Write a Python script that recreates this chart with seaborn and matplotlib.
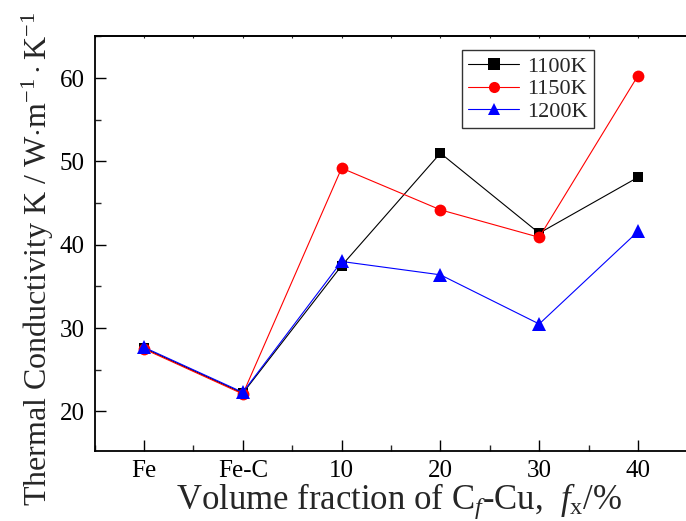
import matplotlib
matplotlib.use("Agg")
import matplotlib.pyplot as plt
import seaborn as sns
import pandas as pd
from matplotlib.ticker import MultipleLocator

categories = ["Fe", "Fe-C", "10", "20", "30", "40"]
series_names = ["1100K", "1150K", "1200K"]
k_1100 = [27.6, 22.2, 37.5, 51.0, 41.4, 48.1]
k_1150 = [27.5, 22.1, 49.2, 44.2, 40.9, 60.3]
k_1200 = [27.7, 22.3, 38.0, 36.4, 30.5, 41.6]

rows = []
for name, vals in zip(series_names, [k_1100, k_1150, k_1200]):
    for i, v in enumerate(vals):
        rows.append({"x": i, "K": v, "T": name})
df = pd.DataFrame(rows)

sns.set_theme(style="ticks")
plt.rcParams["font.family"] = ["Liberation Serif", "DejaVu Serif"]
plt.rcParams["mathtext.fontset"] = "custom"
plt.rcParams["mathtext.rm"] = "Liberation Serif"
plt.rcParams["mathtext.it"] = "Liberation Serif:italic"

fig = plt.figure(figsize=(6.86, 5.21), dpi=100)
ax = fig.add_axes([0.138, 0.135, 0.864, 0.795])

palette = {"1100K": "black", "1150K": "red", "1200K": "blue"}
markers = {"1100K": "s", "1150K": "o", "1200K": "^"}
sns.lineplot(data=df, x="x", y="K", hue="T", style="T", palette=palette,
             markers=markers, dashes=False, linewidth=0.8, markersize=8,
             markeredgewidth=0, ax=ax)

sizes = {"1100K": 7, "1150K": 8.5, "1200K": 9.5}
for line, name in zip(ax.get_lines(), series_names):
    line.set_markersize(sizes[name])

ax.set_xlim(-0.5, 5.5)
ax.set_ylim(15.3, 65)
ax.set_xticks(range(len(categories)))
ax.set_xticklabels(categories)
ax.xaxis.set_minor_locator(MultipleLocator(0.5))
ax.yaxis.set_major_locator(MultipleLocator(10))
ax.yaxis.set_minor_locator(MultipleLocator(5))
ax.tick_params(axis="both", which="major", direction="in", length=8, width=1,
               labelsize=18, colors="black", top=False, right=False)
ax.tick_params(axis="both", which="minor", direction="in", length=4, width=1,
               top=False, right=False)
ax.tick_params(axis="x", which="major", pad=7)
ax.tick_params(axis="y", which="major", pad=7)

sec = ax.secondary_xaxis("top")
sec.set_xticks(range(len(categories)))
sec.xaxis.set_minor_locator(MultipleLocator(0.5))
sec.tick_params(which="both", direction="in", length=1.5, width=0.8, labeltop=False)
sec.spines["top"].set_linewidth(1.3)

for s in ["left", "bottom", "top", "right"]:
    ax.spines[s].set_linewidth(1.3)
    ax.spines[s].set_color("black")

ax.set_xlabel(r"Volume fraction of C$_{\mathit{f}}$-Cu,  $\mathit{f}_{\mathrm{x}}$/%",
              fontsize=25, labelpad=0)
ax.set_ylabel(r"Thermal Conductivity K / W$\cdot$m$^{-1}\cdot$K$^{-1}$",
              fontsize=23, labelpad=4)
ax.xaxis.set_label_coords(0.513, -0.075, transform=ax.transAxes)
ax.xaxis.label.set_verticalalignment("top")
ax.yaxis.set_label_coords(-0.066, 0.462, transform=ax.transAxes)

handles, labels = ax.get_legend_handles_labels()
leg = ax.legend(handles, labels, loc="upper right", bbox_to_anchor=(0.842, 0.968),
                fontsize=16, frameon=True, fancybox=False, edgecolor="black",
                handlelength=2.3, handletextpad=0.35, borderpad=0.28,
                labelspacing=0.1, borderaxespad=0)
leg.get_frame().set_linewidth(1.0)

fig.savefig("out.png", dpi=100)
